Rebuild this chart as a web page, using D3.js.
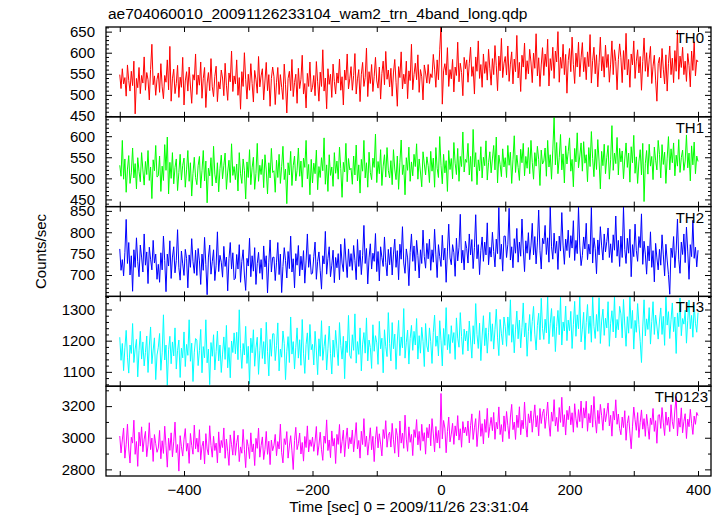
<!DOCTYPE html>
<html><head><meta charset="utf-8">
<script src="https://cdn.jsdelivr.net/npm/d3@7"></script>
<style>body{margin:0;background:#fff}</style>
</head><body>
<script>
// ---------------- data ----------------
const title = "ae704060010_20091126233104_wam2_trn_4band_long.qdp";
const xLabel = "Time [sec] 0 = 2009/11/26 23:31:04";
const yLabel = "Counts/sec";
const tStart = -500, tEnd = 400;          // time span of the binned light curves
const xTickValues = [-500,-400,-300,-200,-100,0,100,200,300,400];
const xTickLabels = [-400,-200,0,200,400];
const bandNames = ["TH0","TH1","TH2","TH3","TH0123"];

const th0 = [
548,515,562,526,541,497,571,534,509,556,522,580,455,539,517,565,503,546,528,590,511,553,536,488,560,620,524,545,499,537,
552,506,574,519,491,546,530,583,512,615,485,538,561,503,527,570,494,542,518,589,476,533,555,509,566,521,480,548,535,597,
501,547,523,578,492,539,565,470,528,553,510,586,519,496,544,568,484,531,514,559,540,498,575,523,487,552,531,604,508,545,
526,583,499,541,466,555,520,600,536,490,549,511,574,527,483,558,537,504,591,519,545,562,488,533,577,510,548,473,539,566,
543,477,530,565,501,548,518,489,573,524,457,539,556,510,584,496,529,549,480,563,515,537,594,502,527,469,551,520,578,507,
518,546,498,579,531,485,554,520,607,509,540,467,562,525,549,494,573,532,502,552,528,585,511,543,476,559,535,597,514,538,
567,511,546,598,502,538,560,484,549,577,520,541,611,496,555,527,572,508,544,589,533,516,566,490,551,580,524,603,537,559,
519,563,497,552,584,530,473,567,541,602,514,549,526,580,491,557,534,620,512,548,575,536,595,506,560,543,488,571,552,528,
572,527,550,541,596,561,518,583,536,607,665,478,557,574,547,612,520,560,538,584,507,566,546,625,531,575,553,498,589,562,
583,530,575,613,544,567,502,590,556,628,539,572,518,597,551,579,535,608,562,523,586,548,617,569,510,592,557,634,541,575,
591,547,616,532,573,602,526,585,555,641,540,577,508,594,566,623,537,581,550,608,578,529,599,563,645,545,588,520,571,612,
546,597,567,632,521,586,558,613,539,604,578,650,530,589,563,620,548,596,504,581,610,555,637,572,527,599,566,625,543,588,
624,555,589,536,602,567,643,528,581,613,550,595,519,576,637,557,591,542,618,565,596,530,573,628,548,607,579,512,584,621,
588,529,605,560,646,547,584,518,597,571,628,539,580,607,552,591,511,579,635,556,600,543,583,615,527,568,594,535,485,574,
589,540,610,561,526,595,509,574,616,548,587,529,605,556,653,537,592,565,613,548,580,532,598,570,519,604,558,626,545,583,
578];

const th1 = [
531,505,590,498,546,467,522,554,488,513,572,501,535,475,549,516,492,561,520,484,540,509,566,495,527,452,544,518,578,503,
506,553,469,529,495,580,519,598,463,538,500,561,487,526,546,471,514,557,496,531,548,479,520,566,493,537,458,512,550,502,
485,530,552,477,518,566,494,541,442,524,506,549,482,576,510,489,537,468,523,555,499,531,560,474,515,543,490,582,507,528,
497,534,470,561,511,488,546,519,451,539,502,568,485,525,550,474,512,583,493,531,509,545,478,556,520,463,537,501,571,514,
518,467,543,502,557,488,528,576,497,522,440,537,508,564,483,530,553,494,519,572,505,541,479,548,526,590,499,533,461,545,
489,536,511,567,473,528,502,549,518,596,486,532,469,556,507,527,481,561,512,541,498,574,523,455,538,515,583,492,547,520,
524,486,553,508,579,494,532,465,545,517,590,501,537,479,562,514,497,548,526,605,490,540,511,568,483,529,556,503,573,519,
501,542,485,568,522,497,553,474,537,591,509,532,461,549,519,574,493,539,506,557,528,582,498,546,515,480,563,534,508,551,
530,490,564,517,548,479,573,524,502,599,531,487,557,513,542,469,566,521,547,499,585,536,509,571,493,552,528,610,515,545,
538,583,508,552,493,616,527,561,485,544,518,575,501,550,530,589,496,537,563,513,546,578,520,598,489,555,533,504,570,527,
549,502,578,531,562,488,544,601,514,555,526,495,569,537,583,506,552,524,573,511,590,538,498,561,529,576,545,483,567,534,
541,572,505,590,527,556,498,567,645,532,585,511,549,604,520,558,489,577,534,563,596,517,545,480,571,539,608,525,553,584,
517,587,536,556,492,573,528,611,547,504,569,521,592,541,475,564,530,581,511,550,578,498,544,625,519,560,535,597,508,571,
539,565,499,546,584,526,560,491,575,537,602,512,551,488,539,568,508,583,445,536,566,510,581,529,552,497,574,543,520,590,
557,501,580,533,562,488,548,599,520,570,537,584,506,555,529,592,514,549,567,519,541,603,525,560,494,577,532,586,511,553,
540];

const th2 = [
761,711,736,698,752,830,727,776,700,745,662,759,718,787,731,696,770,742,707,796,723,754,680,765,737,712,781,728,749,690,
725,683,752,712,791,734,661,749,721,780,692,742,766,705,734,806,717,688,756,726,699,760,739,670,747,718,785,731,704,758,
699,762,733,678,749,711,788,725,654,742,770,702,731,759,687,723,801,708,746,730,695,767,720,742,663,738,776,714,752,689,
692,748,714,771,683,732,759,700,664,739,721,786,696,745,709,764,678,727,753,704,736,690,768,719,745,658,730,782,707,741,
742,687,730,776,701,749,659,720,764,734,693,755,715,791,707,738,670,750,723,769,698,744,712,757,681,733,796,718,748,702,
704,743,777,690,732,754,711,667,745,726,802,702,739,766,696,723,758,682,741,717,750,689,772,728,708,785,735,694,761,720,
750,711,769,734,689,783,720,758,701,745,816,727,762,679,740,773,714,751,732,797,708,755,686,766,741,720,789,729,698,760,
724,765,700,749,784,718,757,689,772,737,813,728,704,761,740,675,753,796,732,768,710,781,746,693,759,727,805,743,716,774,
738,784,711,759,730,807,747,694,771,743,720,793,735,763,683,756,819,740,724,771,752,697,786,733,765,842,728,758,712,779,
762,728,796,747,783,715,764,841,738,771,701,758,789,732,777,747,822,724,765,742,800,755,719,784,750,858,737,772,709,791,
791,741,772,856,735,766,717,785,751,809,730,777,744,831,761,708,780,751,799,736,768,821,747,790,726,775,852,757,714,786,
773,816,748,787,730,860,766,737,798,751,779,713,791,756,846,770,725,784,757,805,741,792,763,827,734,781,750,859,768,722,
746,789,761,821,736,772,749,858,728,787,762,703,782,747,813,768,735,796,754,778,810,741,773,729,794,758,838,744,781,720,
791,741,859,760,727,786,751,807,696,771,743,819,757,732,790,764,843,725,779,749,702,768,733,801,718,757,684,774,740,712,
760,723,794,747,698,772,735,701,655,763,741,790,717,758,831,737,704,777,748,796,729,812,756,690,771,743,828,739,765,719,
758];

const th3 = [
1211,1137,1191,1104,1177,1233,1147,1096,1186,1159,1255,1130,1173,1204,1084,1168,1230,1141,1196,1119,1162,1215,1098,1183,1244,1126,1170,1209,1075,1154,
1179,1223,1105,1161,1283,1138,1186,1057,1171,1214,1126,1196,1151,1241,1109,1169,1202,1082,1176,1145,1228,1117,1188,1153,1267,1134,1192,1069,1163,1207,
1202,1120,1168,1236,1097,1181,1145,1267,1129,1173,1059,1194,1150,1219,1106,1165,1231,1135,1186,1098,1157,1212,1140,1249,1113,1178,1081,1199,1162,1225,
1158,1227,1139,1299,1174,1111,1191,1154,1246,1127,1182,1062,1208,1161,1235,1118,1177,1211,1092,1169,1240,1143,1197,1125,1259,1166,1087,1204,1150,1222,
1222,1136,1184,1257,1103,1173,1147,1231,1191,1075,1166,1213,1130,1276,1157,1197,1109,1179,1241,1144,1203,1121,1268,1160,1095,1188,1225,1139,1252,1171,
1188,1122,1230,1167,1091,1206,1150,1264,1137,1181,1219,1106,1174,1247,1159,1093,1202,1147,1233,1176,1120,1258,1185,1141,1214,1078,1199,1162,1281,1153,
1143,1219,1169,1286,1128,1197,1156,1241,1103,1189,1226,1160,1273,1135,1202,1178,1111,1251,1166,1216,1193,1124,1262,1174,1208,1097,1235,1181,1149,1290,
1191,1135,1258,1174,1221,1108,1199,1265,1152,1212,1177,1303,1144,1195,1234,1125,1207,1249,1169,1230,1186,1271,1141,1216,1160,1243,1198,1117,1255,1183,
1164,1241,1197,1127,1227,1282,1182,1215,1151,1264,1200,1119,1239,1185,1306,1171,1220,1159,1248,1194,1226,1140,1273,1208,1179,1290,1213,1156,1237,1199,
1231,1167,1263,1202,1144,1248,1189,1319,1220,1175,1256,1136,1215,1280,1184,1241,1160,1227,1291,1198,1254,1173,1236,1301,1209,1152,1268,1222,1187,1276,
1245,1182,1276,1217,1331,1195,1252,1161,1237,1295,1206,1266,1177,1242,1321,1212,1257,1150,1230,1284,1198,1262,1310,1221,1170,1249,1288,1203,1336,1239,
1204,1269,1225,1341,1190,1254,1303,1213,1278,1165,1245,1297,1219,1339,1186,1260,1231,1311,1200,1266,1232,1294,1175,1251,1326,1214,1283,1238,1342,1196,
1237,1291,1171,1258,1316,1223,1279,1195,1342,1246,1207,1284,1230,1338,1191,1263,1301,1217,1272,1241,1325,1182,1256,1296,1228,1342,1209,1268,1235,1310,
1286,1209,1332,1250,1182,1277,1224,1342,1239,1297,1173,1265,1227,1319,1252,1198,1130,1244,1331,1215,1270,1236,1306,1189,1261,1325,1220,1282,1247,1205,
1263,1305,1220,1278,1185,1342,1250,1293,1207,1267,1321,1229,1276,1159,1289,1245,1337,1216,1271,1253,1298,1192,1264,1330,1238,1281,1211,1315,1256,1227,
1290];

const th0123 = [
3011,2904,2986,3061,2871,2959,3086,2929,2840,3003,2966,3111,2895,2976,2819,3035,2947,3069,2911,2991,3040,2880,2955,3095,2925,2998,2850,3020,2962,2908,
2934,3046,2867,2981,2901,3073,2949,2814,2997,2920,3031,2879,2974,3099,2906,2957,2789,3013,2943,2884,2990,3058,2915,2965,2838,3027,2952,2896,3080,2930,
2997,2909,3051,2861,2946,2979,2834,3026,2929,2891,3076,2951,2877,3009,2919,2966,2841,3037,2904,2983,2938,3062,2870,2992,2915,2825,3018,2956,2890,3044,
2889,2969,3016,2849,2942,2902,3053,2924,2811,2988,2945,2868,3031,2910,2961,2824,2996,2933,3061,2877,2950,3005,2862,2927,3040,2895,2978,2830,2985,2918,
2953,3021,2886,2976,2929,3086,2905,2841,2994,2957,3039,2871,2948,3013,2917,2799,2983,3066,2925,2962,3030,2897,2970,2852,3008,2938,3075,2910,2987,2945,
3004,2914,2979,3071,2889,2953,3035,2924,2857,3011,2965,3113,2919,2986,2874,3043,2947,2996,2837,3021,2958,3084,2902,2975,3048,2880,2990,3062,2931,3002,
2961,3049,2911,2998,3096,2929,2983,2871,3041,2957,3121,2944,3011,2890,2976,3063,2924,3009,2849,2991,3070,2936,3025,2960,2885,3052,2995,3108,2940,3015,
3036,2941,3091,2987,2902,3059,3013,2879,3106,2966,3029,2933,3143,2991,2914,3069,2971,3021,2887,3051,3002,3115,2955,3040,2920,3085,2978,3032,2896,3064,
2999,3086,2949,3121,3024,2911,3071,2967,3046,2934,3280,2993,3109,3061,2905,3039,3131,2974,3023,3091,2958,3075,3012,3140,2985,3057,2940,3102,3030,3068,
3013,3106,2967,3076,3151,2989,3063,3121,2944,3049,3171,3009,3089,2961,3116,3034,3186,3001,3071,3129,3045,3160,2990,3098,3055,3195,3020,3083,2975,3138,
3041,3166,3077,2994,3131,3211,3051,3099,2989,3143,3064,3196,3019,3111,3057,3226,3079,3004,3151,3093,3170,3035,3124,3208,3068,3140,3012,3185,3090,3155,
3181,3059,3136,3226,3087,3009,3163,3104,3241,3074,3129,3039,3191,3097,3256,3069,3146,3017,3173,3114,3200,3082,3158,3035,3215,3120,3065,3178,3102,3232,
3061,3189,3124,3231,3041,3153,3094,3206,3067,3261,3117,3029,3173,3089,3211,3139,3047,3186,3101,3156,3220,3075,3142,3010,3168,3112,3240,3085,3150,3058,
3019,3131,3064,3171,2984,3091,3139,3029,2930,3069,3194,3114,3047,3159,3001,3097,3176,3054,3121,3009,3148,3072,2990,3125,3083,3185,3040,3108,2965,3142,
3146,3059,3191,3094,3014,3163,3079,3131,3039,3209,3101,3057,3176,3260,3011,3124,3067,3189,3031,3104,3152,2995,3118,3070,3180,3092,3021,3137,3085,3160,
3140];

const series = [th0, th1, th2, th3, th0123];
const yDomains = [[448,661],[433,646],[650,860],[1054,1342],[2758,3326]];
const yMajorTicks = [
  [450,500,550,600,650],
  [450,500,550,600],
  [700,750,800,850],
  [1100,1200,1300],
  [2800,3000,3200]];
const yMinorStep = [10,10,10,20,100];

// ---------------- layout / style ----------------
const W = 723, H = 516;
const plotL = 106, plotR = 711, plotT = 27, plotB = 476;
const colors = ["#ff0000","#00ff00","#0000ff","#00ffff","#ff00ff"];
const font = "'Liberation Sans', Arial, Helvetica, sans-serif";
const nP = series.length;
const pH = (plotB - plotT) / nP;

const svg = d3.select("body").append("svg")
  .attr("width", W).attr("height", H)
  .style("font-family", font);
svg.append("rect").attr("width", W).attr("height", H).attr("fill", "#fff");

const x = d3.scaleLinear().domain([-521.4, 420.2]).range([plotL, plotR]);

svg.append("text").attr("x", 108).attr("y", 19)
  .attr("font-size", 15.5).attr("fill", "#000").text(title);

const defs = svg.append("defs");

series.forEach((vals, p) => {
  const top = plotT + p * pH, bot = top + pH;
  const y = d3.scaleLinear().domain(yDomains[p]).range([bot, top]);
  const n = vals.length;
  const dt = (tEnd - tStart) / (n - 1);
  const pts = vals.map((v, i) => [tStart + i * dt, v]);

  defs.append("clipPath").attr("id", "clip" + p)
    .append("rect").attr("x", plotL).attr("y", top)
    .attr("width", plotR - plotL).attr("height", pH);

  const line = d3.line().x(d => x(d[0])).y(d => y(d[1]));
  svg.append("path").datum(pts)
    .attr("clip-path", `url(#clip${p})`)
    .attr("d", line)
    .attr("fill", "none").attr("stroke", colors[p])
    .attr("stroke-width", 1).attr("stroke-linejoin", "miter");

  // minor y ticks
  const [d0, d1] = yDomains[p];
  const minor = d3.range(Math.ceil(d0 / yMinorStep[p]) * yMinorStep[p], d1, yMinorStep[p])
    .filter(v => !yMajorTicks[p].includes(v));

  const gL = svg.append("g").attr("transform", `translate(${plotL},0)`);
  gL.call(d3.axisLeft(y).tickValues(yMajorTicks[p]).tickSize(-6).tickPadding(11)
      .tickFormat(d3.format("d")));
  gL.append("g").call(d3.axisLeft(y).tickValues(minor).tickSize(-3).tickFormat(""));
  const gR = svg.append("g").attr("transform", `translate(${plotR},0)`);
  gR.call(d3.axisRight(y).tickValues(yMajorTicks[p]).tickSize(-6).tickFormat(""));
  gR.append("g").call(d3.axisRight(y).tickValues(minor).tickSize(-3).tickFormat(""));

  // x ticks on top and bottom edges of each panel
  const gT = svg.append("g").attr("transform", `translate(0,${top})`);
  gT.call(d3.axisTop(x).tickValues(xTickValues).tickSize(-5).tickFormat(""));
  const gB = svg.append("g").attr("transform", `translate(0,${bot})`);
  const isLast = p === nP - 1;
  gB.call(d3.axisBottom(x).tickValues(xTickValues).tickSize(-5).tickPadding(8)
    .tickFormat(d => isLast && xTickLabels.includes(d) ? d3.format("d")(d) : ""));

  // panel frame
  svg.append("rect").attr("x", plotL).attr("y", top)
    .attr("width", plotR - plotL).attr("height", pH)
    .attr("fill", "none").attr("stroke", "#000").attr("stroke-width", 1.3);

  svg.append("text")
    .attr("x", isLast ? 708 : 704).attr("y", top + 16)
    .attr("text-anchor", "end").attr("font-size", 15).attr("fill", "#000")
    .text(bandNames[p]);
});

svg.selectAll(".domain").remove();
svg.selectAll(".tick line").attr("stroke", "#000").attr("stroke-width", 1);
svg.selectAll(".tick text").attr("font-size", 15).attr("font-family", font).attr("fill", "#000");

svg.append("text").attr("x", 409).attr("y", 512)
  .attr("text-anchor", "middle").attr("font-size", 15.3).attr("fill", "#000")
  .text(xLabel);

svg.append("text")
  .attr("transform", `translate(46,${(plotT + plotB) / 2}) rotate(-90)`)
  .attr("text-anchor", "middle").attr("font-size", 15).attr("fill", "#000")
  .text(yLabel);
</script>
</body></html>
